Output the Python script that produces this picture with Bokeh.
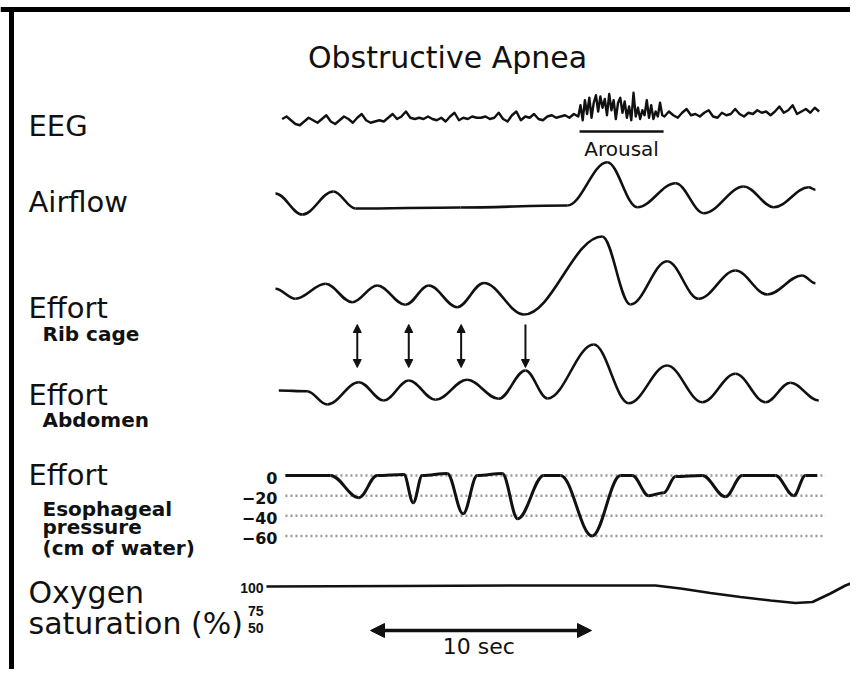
from bokeh.plotting import figure
from bokeh.models import Range1d, Arrow, NormalHead
from bokeh.core.properties import value
from bokeh.embed import file_html
from bokeh.resources import INLINE

# ------------------------------------------------------------------ data
# time in seconds (t = 0 at the left end of the traces)
eeg_t = [0.3, 0.5, 0.7, 0.9, 1.1, 1.3, 1.5, 1.7, 1.9, 2.1, 2.3, 2.5, 2.7, 2.9, 3.1, 3.3, 3.5, 3.7, 3.9, 4.1,
         4.3, 4.5, 4.7, 4.9, 5.1, 5.3, 5.5, 5.7, 5.9, 6.1, 6.3, 6.5, 6.7, 6.9, 7.1, 7.3, 7.5, 7.7, 7.9, 8.1,
         8.3, 8.5, 8.7, 8.9, 9.1, 9.3, 9.5, 9.7, 9.9, 10.1, 10.3, 10.5, 10.7, 10.9, 11.1, 11.3, 11.5, 11.7,
         11.9, 12.1, 12.3, 12.5, 12.7, 12.9, 13.1, 13.3, 13.5, 13.7,
         13.8, 13.9, 14.0, 14.1, 14.2, 14.3, 14.4, 14.5, 14.6, 14.7, 14.8, 14.9, 15.0, 15.1, 15.2, 15.3, 15.4,
         15.5, 15.6, 15.7, 15.8, 15.9, 16.0, 16.1, 16.2, 16.3, 16.4, 16.5, 16.6, 16.7, 16.8, 16.9, 17.0, 17.1,
         17.2, 17.3, 17.4, 17.5,
         17.6, 17.8, 18.0, 18.2, 18.4, 18.6, 18.8, 19.0, 19.2, 19.4, 19.6, 19.8, 20.0, 20.2, 20.4, 20.6, 20.8,
         21.0, 21.2, 21.4, 21.6, 21.8, 22.0, 22.2, 22.4, 22.6, 22.8, 23.0, 23.2, 23.4, 23.6, 23.8, 24.0, 24.2,
         24.4, 24.6]
eeg_v = [2, 4, 1, -2, -3, 0, 3, 1, -1, 2, 5, 0, -2, 1, 4, 2, -1, 3, 6, 1,
         -1, 0, 1, 0, 3, 6, 2, 4, 8, 3, 2, 3, 2, 4, 2, 1, 3, 0, 4, 7,
         1, 3, 2, 4, 3, 3, 4, 2, 3, 7, 2, 0, 5, 8, 1, 4, 3, 6,
         2, 1, 4, 5, 3, 4, 5, 3, 6, 4,
         13, 1, 17, 6, 19, 3, 15, 21, 8, 20, 11, 18, 5, 22, 9, 17, 2,
         15, 19, 7, 16, 3, 12, 1, 23, 4, 11, 2, 9, 5, 17, 3, 13, 2,
         8, 4, 15, 5,
         4, 8, 5, 3, 7, 10, 5, 6, 4, 7, 9, 4, 3, 7, 5, 6, 10,
         6, 4, 7, 6, 9, 7, 8, 5, 8, 12, 7, 9, 13, 6, 8, 10, 7,
         11, 8]

# breathing traces: turning points (t in s, amplitude in arbitrary units)
airflow_t = [0.00, 1.21, 2.62, 3.62, 8.37, 13.20, 15.01, 16.37, 18.10, 19.38, 21.19, 22.55, 24.13, 24.43]
airflow_v = [1.40, -0.70, 1.60, -0.10, 0.00, 0.20, 4.53, 0.03, 2.43, -0.57, 2.10, 0.03, 2.03, 1.77]

rib_t = [0.00, 0.90, 2.26, 3.47, 4.60, 5.88, 6.94, 8.22, 9.43, 11.24, 14.78, 16.06, 17.72,
         19.15, 20.81, 22.25, 23.83, 24.43]
rib_v = [0.37, -0.63, 0.87, -0.97, 0.70, -1.23, 0.70, -1.47, 0.95, -2.20, 5.60, -1.20, 3.13,
         -0.63, 2.20, -0.20, 1.70, 0.93]

abd_t = [0.15, 1.43, 2.34, 3.77, 4.90, 6.03, 7.24, 8.67, 10.10, 11.31, 12.31, 14.40, 15.99, 17.72,
         19.31, 20.81, 22.17, 23.30, 24.58]
abd_v = [0.00, -0.07, -1.40, 0.83, -1.00, 1.00, -0.93, 1.07, -0.83, 2.00, -0.80, 4.60, -1.27, 2.50,
         -1.17, 1.67, -1.17, 0.77, -1.00]

# esophageal pressure, cm of water
eso_t = [0.45, 2.49, 3.77, 4.60, 5.81, 6.23, 6.64, 7.77, 8.49, 9.13, 10.26, 10.96, 12.14, 12.90,
         14.33, 15.61, 16.14, 16.89, 17.57, 18.10, 19.31, 20.36, 21.12, 22.62, 23.45, 23.98, 24.51]
eso_v = [0, 0, -22, 0, 1, -27, 0, 2, -38, 0, 2, -43, 0, 0,
         -60, 0, 0, -20, -17, -1, 0, -21, 0, 0, -20, 0, 0]
eso_ticks = [0, -20, -40, -60]
eso_tick_labels = ["0", "\u221220", "\u221240", "\u221260"]

# oxygen saturation, %
o2_t = [-0.41, 5.66, 11.09, 17.19, 18.33, 19.68, 21.04, 22.40, 23.53, 24.30, 25.11, 25.79, 26.38, 26.74]
o2_v = [100, 100.5, 101, 101, 98, 93.5, 89.5, 86, 83.5, 84.5, 93, 101, 106, 109]
o2_tick_labels = ["100", "75", "50"]

arrow_t = [3.70, 6.03, 8.40, 11.31]       # paired rib-cage / abdomen phases
arousal_t = [13.76, 17.56]
scale_bar_t = [4.30, 14.30]                # 10 sec

# ------------------------------------------------------------------ layout
INK = "#111111"
FONT = value("DejaVu Sans")
T0_PX, PX_PER_S = 275, 22.1
X0, X1, Y0, Y1 = 0, 850, 0, 669

p = figure(width=850, height=669, x_range=Range1d(X0, X1), y_range=Range1d(Y1, Y0),
           x_axis_location=None, y_axis_location=None, toolbar_location=None,
           output_backend="svg", min_border=0, outline_line_color=None,
           background_fill_color="white", border_fill_color="white")
for g in p.grid:
    g.visible = False

p.extra_x_ranges = {"time": Range1d((X0 - T0_PX) / PX_PER_S, (X1 - T0_PX) / PX_PER_S)}


def band(row0, px_per_unit):
    return Range1d((row0 - Y1) / px_per_unit, (row0 - Y0) / px_per_unit)


p.extra_y_ranges = {
    "eeg": band(121, 1.25),
    "air": band(207, 10.0),
    "rib": band(292, 10.0),
    "abd": band(390, 10.0),
    "eso": band(475, 60.5 / 60.0),
    "o2": band(686, 1.0),
}


def smooth(t, v, rng, width=2.6, h=0.36):
    x0, x1, y0, y1 = t[:-1], t[1:], v[:-1], v[1:]
    cx0 = [a + h * (b - a) for a, b in zip(x0, x1)]
    cx1 = [b - h * (b - a) for a, b in zip(x0, x1)]
    p.bezier(x0=x0, y0=y0, x1=x1, y1=y1, cx0=cx0, cy0=y0, cx1=cx1, cy1=y1,
             x_range_name="time", y_range_name=rng, line_color=INK, line_width=width)


def txt(xs, ys, texts, size, align="left", bold=False, y_rng="default", x_rng="default",
        yoff=0, font=FONT):
    p.text(x=xs, y=ys, text=texts, text_font=font, text_font_size=size,
           text_font_style="bold" if bold else "normal", text_align=align,
           text_baseline="middle", text_color=INK, x_range_name=x_rng,
           y_range_name=y_rng, y_offset=yoff)


# frame (top and left edges)
p.segment(x0=[X0, 11], y0=[9, 9], x1=[X1, 11], y1=[9, Y1], line_color="black", line_width=5)

# esophageal reference levels
p.segment(x0=[0.45] * 4, x1=[24.89] * 4, y0=eso_ticks, y1=eso_ticks, x_range_name="time",
          y_range_name="eso", line_color="#999999", line_width=2.5, line_dash="2 3")

# traces
p.line(eeg_t, eeg_v, x_range_name="time", y_range_name="eeg", line_color=INK,
       line_width=2.4, line_join="round")
smooth(airflow_t, airflow_v, "air")
smooth(rib_t, rib_v, "rib")
smooth(abd_t, abd_v, "abd")
smooth(eso_t, eso_v, "eso", width=3.0)
p.line(o2_t, o2_v, x_range_name="time", y_range_name="o2", line_color=INK, line_width=2.6)

# arousal bar
p.segment(x0=[arousal_t[0]], x1=[arousal_t[1]], y0=[131], y1=[131], x_range_name="time",
          line_color=INK, line_width=2.5)

# paired arrows between rib cage and abdomen
for i, t in enumerate(arrow_t):
    head = dict(size=8, fill_color=INK, line_color=INK)
    p.add_layout(Arrow(start=NormalHead(**head) if i < 3 else None, end=NormalHead(**head),
                       x_start=t, y_start=324, x_end=t, y_end=367, x_range_name="time",
                       line_color=INK, line_width=2))

# 10 sec scale bar
bar_head = dict(size=14, fill_color=INK, line_color=INK)
p.add_layout(Arrow(start=NormalHead(**bar_head), end=NormalHead(**bar_head),
                   x_start=scale_bar_t[0], y_start=630, x_end=scale_bar_t[1], y_end=630,
                   x_range_name="time", line_color=INK, line_width=3.5))

# texts (y = visual centre of each line)
txt([447], [57], ["Obstructive Apnea"], "30px", align="center")
txt([28] * 5, [125, 201, 307, 394, 474], ["EEG", "Airflow", "Effort", "Effort", "Effort"], "29px")
txt([42] * 5, [333, 419, 508, 526, 547],
    ["Rib cage", "Abdomen", "Esophageal", "pressure", "(cm of water)"], "20px", bold=True)
txt([28, 28], [592, 623], ["Oxygen", "saturation (%)"], "30px")
txt([277] * 4, eso_ticks, eso_tick_labels, "16px", align="right", bold=True, y_rng="eso", yoff=2)
txt([263] * 3, [587, 610, 627], o2_tick_labels, "14px", align="right", bold=True,
    font=value("Liberation Sans"))
txt([sum(arousal_t) / 2], [148], ["Arousal"], "20px", align="center", x_rng="time")
txt([9.2], [646], ["10 sec"], "22px", align="center", x_rng="time")

open("out.html", "w").write(file_html(p, INLINE))
